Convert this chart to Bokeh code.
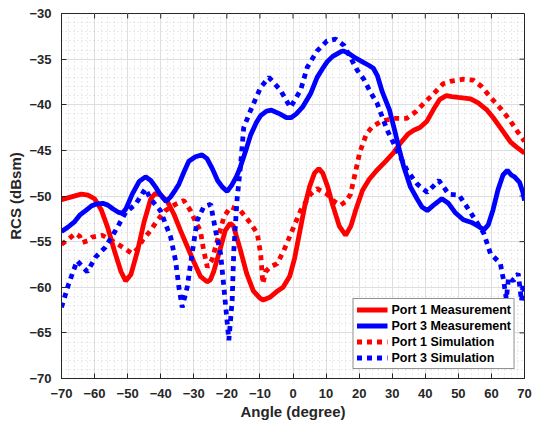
import math
from bokeh.plotting import figure
from bokeh.models import Range1d, FixedTicker, Legend, LegendItem
from bokeh.embed import file_html
from bokeh.resources import INLINE

# ---------------- data ----------------
x_ticks = list(range(-70, 71, 10))
y_ticks = list(range(-70, -29, 5))

p1_meas_ang = [-70, -67, -64, -62, -60, -58, -56, -54, -52, -50.6, -49, -47, -45, -43,
               -41.6, -40, -38, -36, -34, -32, -30, -28, -26, -25, -24, -22, -20.5, -19,
               -18, -16, -14, -12, -10, -9, -7, -5, -3, -1, 0.5, 2, 3.5, 5, 6.5, 7.8, 9,
               10.5, 12, 14, 15.9, 17.5, 19, 21, 23, 25.3, 28, 30.3, 32.5, 34.8, 36.5,
               38.4, 40.5, 42.5, 44.4, 46.4, 48, 50, 53.7, 56, 58.7, 60.5, 62.7, 65.8,
               67.8, 70]
p1_meas_val = [-50.4, -50.1, -49.8, -49.9, -50.3, -51.5, -53.5, -56.0, -58.3, -59.3, -58.6,
               -56.0, -52.8, -50.3, -49.7, -49.9, -50.6, -52.0, -53.8, -55.5, -57.2, -58.8,
               -59.4, -59.2, -58.3, -55.8, -53.8, -53.0, -53.3, -55.8, -58.5, -60.4, -61.2,
               -61.4, -61.1, -60.5, -60.0, -58.8, -56.8, -54.0, -51.2, -49.0, -47.5, -47.0,
               -47.5, -49.0, -51.0, -53.3, -54.3, -53.3, -51.5, -49.4, -48.2, -47.2, -46.2,
               -45.3, -44.2, -43.2, -42.8, -42.5, -41.8, -40.5, -39.4, -39.0, -39.1, -39.2,
               -39.35, -39.8, -40.6, -41.4, -42.5, -44.1, -44.7, -45.3]

p3_meas_ang = [-70, -68, -66, -64.5, -62.7, -61, -59.7, -57.5, -56, -54.5, -52.7, -51.6,
               -50.5, -48.6, -46.5, -44.6, -43, -41.6, -40, -38.4, -37, -35.5, -34.5, -33,
               -31.5, -29.5, -27.5, -26, -24.4, -22.8, -21.4, -19.9, -18.5, -17, -15.9,
               -14, -12.8, -11, -9.8, -8, -6.5, -4, -2, -0.5, 1, 3, 5.3, 7.3, 9, 10.3,
               12, 14.4, 15.2, 17, 19, 21, 23, 24.3, 25.5, 27, 29.2, 31, 32.2, 33.5, 35.5,
               37.5, 39, 40.6, 42.5, 45, 47, 49, 51.5, 54, 56, 57.7, 59, 60.5, 62, 63.5,
               64.8, 66, 67, 68.5, 69.5, 70]
p3_meas_val = [-53.9, -53.4, -52.8, -52.1, -51.6, -51.1, -50.9, -50.8, -51.0, -51.4, -51.8,
               -51.9, -51.4, -49.8, -48.4, -47.9, -48.3, -49.0, -49.9, -50.6, -50.1, -49.3,
               -48.7, -47.4, -46.2, -45.7, -45.5, -45.9, -47.0, -48.3, -49.0, -49.5, -48.8,
               -47.8, -46.8, -44.7, -43.3, -41.9, -41.2, -40.7, -40.6, -41.0, -41.4, -41.4,
               -41.0, -40.2, -38.8, -37.0, -36.0, -35.3, -34.7, -34.2, -34.1, -34.4, -34.9,
               -35.3, -35.7, -36.0, -36.8, -38.6, -40.6, -43.2, -45.0, -46.8, -49.0, -50.3,
               -51.2, -51.6, -51.0, -50.3, -50.8, -51.8, -52.6, -52.9, -53.3, -53.7, -53.2,
               -51.5, -49.3, -47.7, -47.2, -47.7, -47.9, -48.5, -49.6, -50.5]

p1_sim_ang = [-70, -68.5, -65.8, -64.5, -63.7, -62, -60.7, -57.7, -54.7, -51.6, -48.6, -47,
              -45.6, -43.1, -41.1, -38.6, -35.5, -33, -31, -29.5, -28, -27, -25.9, -24.5,
              -22.9, -20.9, -18.9, -15.9, -12.8, -10.8, -9.8, -9.1, -8.3, -7, -4.8, -2.8,
              0.2, 2.3, 5.3, 7.3, 10.3, 12.5, 14.4, 16, 17.4, 18.5, 20.2, 22.2, 24, 26.3,
              28, 30.3, 34.3, 37, 39.4, 42.5, 45.4, 48, 51.5, 54.5, 57, 60.5, 63, 65.6, 68,
              70]
p1_sim_val = [-55.3, -54.9, -54.1, -54.4, -55.1, -54.9, -54.5, -54.3, -54.9, -55.6, -56.3,
              -55.8, -54.9, -53.8, -52.7, -51.6, -50.9, -50.5, -51.6, -52.8, -53.8, -56.0,
              -57.8, -57.0, -54.9, -52.3, -51.2, -51.6, -53.0, -54.1, -56.3, -59.6, -58.3,
              -57.8, -57.4, -56.0, -53.4, -51.6, -49.8, -49.2, -49.8, -50.6, -51.0, -50.6,
              -49.8, -48.0, -45.2, -43.2, -42.4, -41.9, -41.7, -41.5, -41.5, -40.8, -39.9,
              -38.8, -37.7, -37.4, -37.2, -37.3, -38.0, -39.5, -40.5, -41.7, -43.0, -44.0]

p3_sim_ang = [-70, -67.8, -65.3, -62.2, -59.7, -56.7, -53.7, -50.6, -47.6, -44.6, -43.1,
              -40.1, -37, -35.5, -34.5, -33.5, -32, -30.5, -29, -27, -24.9, -23.4, -21.9,
              -20.9, -19.4, -18.4, -17.9, -16.9, -15.9, -14.9, -12.8, -9.8, -7.3, -3.8,
              -0.8, 2.3, 4.3, 7.3, 10.3, 12.9, 15.4, 19.4, 21.4, 23.4, 25.5, 28.5, 31.5,
              34.5, 37.6, 40.6, 44.1, 47.1, 50.2, 53.7, 57.7, 59.7, 62.7, 63.7, 64.5, 65.2,
              66.6, 68.1, 69.1, 69.6, 70]
p3_sim_val = [-62.2, -59.6, -57.1, -58.3, -56.7, -55.6, -53.8, -51.8, -50.9, -49.2, -50.3,
              -51.6, -54.5, -57.1, -60.0, -62.2, -60.0, -56.3, -52.7, -51.2, -50.9, -53.8,
              -56.3, -60.0, -65.8, -61.5, -56.0, -50.3, -46.8, -42.5, -40.6, -38.1, -37.0,
              -38.4, -40.3, -38.4, -35.9, -34.1, -33.0, -32.8, -33.5, -36.2, -37.2, -38.6,
              -39.9, -42.8, -45.0, -47.2, -48.7, -49.6, -48.3, -49.8, -49.9, -51.8, -54.1,
              -56.3, -57.4, -59.3, -61.3, -58.9, -59.3, -58.5, -61.5, -59.6, -60.5]

series_labels = ["Port 1 Measurement", "Port 3 Measurement",
                 "Port 1 Simulation", "Port 3 Simulation"]

# ---------------- figure ----------------
FONT = "Liberation Sans"
DARK = "#262626"

x_min, x_max = x_ticks[0], x_ticks[-1]
y_min, y_max = y_ticks[0], y_ticks[-1]

p = figure(width=536, height=422, output_backend="svg", toolbar_location=None,
           x_range=Range1d(x_min, x_max), y_range=Range1d(y_min, y_max),
           min_border_left=61, min_border_right=12, min_border_top=13,
           min_border_bottom=44)
p.background_fill_color = "white"
p.border_fill_color = "white"
p.outline_line_color = DARK
p.outline_line_width = 1

xt = FixedTicker(ticks=x_ticks, minor_ticks=list(range(-70, 71, 2)))
yt = FixedTicker(ticks=y_ticks, minor_ticks=list(range(-70, -29, 1)))
p.xaxis.ticker = xt
p.yaxis.ticker = yt

for ax in (p.xaxis[0], p.yaxis[0]):
    ax.axis_line_color = DARK
    ax.major_tick_line_color = DARK
    ax.major_tick_in = 5
    ax.major_tick_out = 0
    ax.minor_tick_line_color = None
    ax.major_label_text_font = FONT
    ax.major_label_text_font_style = "bold"
    ax.major_label_text_font_size = "13px"
    ax.major_label_text_color = DARK
    ax.axis_label_text_font = FONT
    ax.axis_label_text_font_style = "bold"
    ax.axis_label_text_font_size = "15px"
    ax.axis_label_text_color = DARK

p.xaxis.axis_label = "Angle (degree)"
p.yaxis.axis_label = "RCS (dBsm)"
p.xaxis.major_label_standoff = 6
p.yaxis.major_label_standoff = 6
p.xaxis.axis_label_standoff = 2
p.yaxis.axis_label_standoff = 2

# inward ticks on the top and right edges of the box
p.ray(x=x_ticks, y=[y_max] * len(x_ticks), length=5, angle=-math.pi / 2,
      length_units="screen", line_color=DARK, line_width=1)
p.ray(x=[x_max] * len(y_ticks), y=y_ticks, length=5, angle=math.pi,
      length_units="screen", line_color=DARK, line_width=1)

for g in (p.xgrid[0], p.ygrid[0]):
    g.grid_line_color = "#dedede"
    g.grid_line_width = 1
    g.minor_grid_line_color = "#b0b0b0"
    g.minor_grid_line_alpha = 0.5
    g.minor_grid_line_dash = "1 3"

r1 = p.line(p1_meas_ang, p1_meas_val, line_color="#ff0000", line_width=4.8)
r2 = p.line(p3_meas_ang, p3_meas_val, line_color="#0000ff", line_width=4.8)
r3 = p.line(p1_sim_ang, p1_sim_val, line_color="#ff0000", line_width=4.8,
            line_dash="5 5", line_cap="butt")
r4 = p.line(p3_sim_ang, p3_sim_val, line_color="#0000ff", line_width=4.8,
            line_dash="5 5", line_cap="butt")

legend = Legend(items=[LegendItem(label=series_labels[0], renderers=[r1]),
                       LegendItem(label=series_labels[1], renderers=[r2]),
                       LegendItem(label=series_labels[2], renderers=[r3]),
                       LegendItem(label=series_labels[3], renderers=[r4])],
                location="bottom_right")
legend.margin = 9
legend.padding = 3
legend.spacing = 1
legend.label_height = 15
legend.glyph_height = 15
legend.glyph_width = 31
legend.label_standoff = 4
legend.label_text_font = FONT
legend.label_text_font_style = "bold"
legend.label_text_font_size = "12.5px"
legend.label_text_color = "black"
legend.border_line_color = DARK
legend.border_line_width = 1
legend.background_fill_color = "white"
legend.background_fill_alpha = 1
p.add_layout(legend, "center")

open("out.html", "w").write(file_html(p, INLINE))
